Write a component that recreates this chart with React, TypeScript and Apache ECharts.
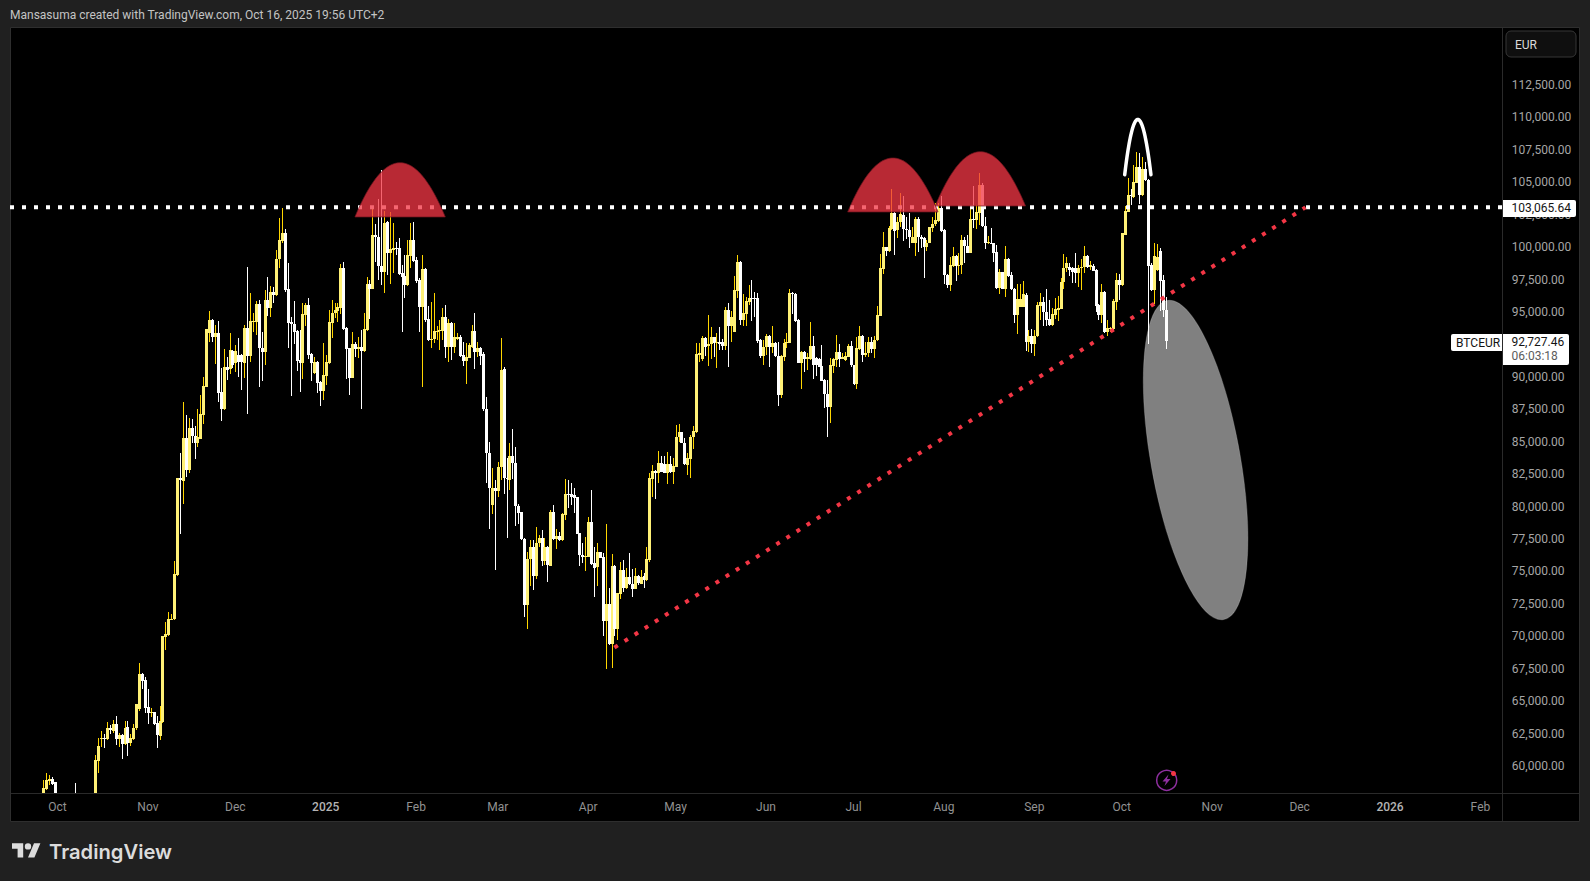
import { useEffect, useRef } from "react";
import * as echarts from "echarts";

type Candle = [number, number, number, number]; // open, high, low, close

const firstDay = "2024-09-16";
const dayCount = 511;

const sep24: Candle[] = [
  [52900, 53100, 52000, 52300], [52300, 54000, 52100, 53700], [53700, 54500, 52900, 54200], [54200, 56000, 54100, 55800], [55800, 56500, 55300, 56200],
  [56200, 56500, 55900, 56300], [56300, 57000, 55900, 56800], [56800, 57300, 56300, 57000], [57000, 57700, 56500, 57400], [57400, 57600, 56400, 56800],
  [57000, 58920, 56800, 58277], [58226, 59434, 58149, 58920], [58869, 59305, 58535, 58971], [58971, 59126, 58500, 58612], [58740, 58740, 56900, 57300],
];
const oct24: Candle[] = [
  [57300, 57700, 54800, 55500], [55500, 56100, 54800, 55200], [55200, 55600, 54300, 55000], [55000, 56400, 54900, 56100], [56100, 56300, 55900, 56200],
  [56200, 57200, 56000, 57000], [57500, 58663, 56000, 56800], [56800, 57200, 56100, 56900], [56900, 57300, 55700, 55800], [55800, 56600, 54900, 55300],
  [55300, 57400, 55200, 57000], [57000, 57500, 56800, 57300], [57300, 57600, 56700, 57000], [57000, 60847, 56900, 60462], [60411, 62132, 59434, 61541],
  [62055, 62698, 61490, 62132], [62132, 62467, 61361, 62055], [62055, 63418, 62004, 62904], [62904, 63161, 62467, 62775], [62724, 63546, 62518, 63238],
  [63238, 63854, 61618, 62081], [62055, 62518, 61490, 62390], [62390, 62450, 60565, 61696], [61696, 63469, 61618, 62955], [63032, 63469, 60770, 61798],
  [61798, 62441, 61541, 62132], [62081, 63238, 62004, 62904], [62904, 64754, 62775, 64754], [64394, 67915, 64266, 67093], [67093, 67195, 65936, 66579],
  [66630, 66836, 64060, 64445],
];
const nov24: Candle[] = [
  [64523, 65936, 63238, 64111], [64111, 64497, 63752, 64163], [64163, 64163, 63160, 63238], [63289, 63854, 61387, 62364], [62312, 64625, 62004, 63443],
  [63417, 70022, 63340, 70022], [69971, 71076, 68943, 70177], [70074, 71847, 70022, 71307], [71307, 71719, 71256, 71359], [71333, 75805, 71256, 74803],
  [74726, 82176, 74674, 82176], [82176, 84104, 77885, 82048], [81997, 88062, 80198, 85261], [85261, 87060, 82305, 82819], [82819, 86803, 82613, 86031],
  [86031, 86725, 84875, 85440], [85466, 86212, 83667, 84875], [84875, 87496, 84618, 85338], [85235, 88601, 85183, 87137], [87060, 89964, 86366, 89295],
  [89244, 93664, 89193, 93664], [93356, 95078, 92714, 94384], [94384, 94435, 92714, 93099], [93099, 93998, 90992, 93407], [93407, 94307, 88088, 88781],
  [88807, 90658, 86623, 87522], [87522, 92148, 87445, 90735], [90735, 91506, 89758, 90529], [90580, 93407, 90221, 92071], [92020, 92071, 90658, 90915],
];
const dec24: Candle[] = [
  [91043, 92457, 90375, 92020], [91686, 92970, 90015, 91171], [91686, 91763, 88987, 91120], [91043, 93998, 89938, 93742], [93742, 98468, 87137, 91608],
  [91606, 96438, 91170, 94305], [94228, 94896, 93482, 94305], [94254, 95847, 93226, 95616], [95616, 95924, 89242, 92198], [92198, 93482, 89705, 91915],
  [91915, 96695, 90912, 95941], [95941, 97672, 94690, 95333], [95333, 97003, 94639, 96515], [96515, 96952, 95718, 96284], [96310, 99779, 96258, 99059],
  [99059, 102220, 98417, 100550], [100499, 102992, 100293, 101064], [101064, 101398, 96567, 96695], [96772, 98751, 92249, 94176], [94254, 94639, 88548, 94074],
  [94074, 95847, 92532, 93482], [93560, 93611, 90476, 91247], [91298, 93611, 88856, 91092], [91092, 95667, 89833, 94845], [94793, 95667, 93945, 95539],
  [95539, 96052, 91349, 91684], [91735, 91812, 89705, 91041], [90321, 91504, 90219, 91118], [91118, 91221, 88728, 89550], [89602, 89705, 87777, 88908],
  [88908, 92583, 88214, 90116],
];
const jan25: Candle[] = [
  [90090, 91684, 89370, 91118], [91067, 95153, 90990, 94202], [94176, 95924, 92968, 94896], [94896, 95718, 94511, 95127], [95102, 95667, 94254, 95359],
  [95333, 98674, 94845, 98365], [98365, 98828, 93611, 93714], [93740, 93868, 89833, 92146], [92198, 92249, 88600, 89936], [89936, 93482, 89885, 92506],
  [92506, 92712, 91555, 92146], [92120, 93097, 91427, 92275], [92275, 93611, 87546, 92018], [91992, 94896, 91941, 93662], [93611, 97672, 93560, 97132],
  [97132, 97466, 94459, 96772], [96798, 102914, 96746, 100910], [100910, 101784, 98880, 100756], [100756, 103685, 97466, 98545], [98545, 105947, 97080, 98083],
  [98083, 102786, 96489, 101886], [101938, 102015, 97852, 99573], [99573, 102709, 97158, 99830], [99779, 101835, 97980, 99908], [99908, 100422, 99393, 99830],
  [99908, 100679, 97877, 97929], [97980, 98623, 93482, 97723], [97774, 99394, 96104, 97106], [97081, 100550, 97029, 99368], [99342, 101835, 98365, 100550],
  [100550, 101912, 98880, 98957],
];
const feb25: Candle[] = [
  [99008, 99265, 97209, 97389], [97466, 97594, 93482, 95410], [95410, 99394, 89242, 98288], [98288, 98365, 94254, 94382], [94433, 95461, 92789, 92840],
  [92840, 95744, 92198, 92917], [92891, 96438, 92583, 93534], [93482, 93919, 92840, 93560], [93560, 94382, 92069, 93611], [93534, 95282, 92840, 94613],
  [94613, 95539, 91427, 92326], [92326, 94459, 91170, 94151], [94176, 94254, 91298, 92326], [92326, 94125, 91812, 93097], [92943, 93405, 92840, 93046],
  [93046, 93226, 91555, 91606], [91684, 92712, 90835, 91247], [91247, 92583, 89448, 91504], [91478, 92583, 91427, 92455], [92326, 93997, 92198, 93534],
  [93534, 94896, 90604, 91941], [91941, 92712, 91555, 92198], [92198, 92326, 90912, 91606], [91735, 91889, 87392, 87494], [87497, 88422, 81791, 84155],
  [84155, 85003, 78270, 81406], [80120, 82947, 79427, 81406], [81406, 82048, 75109, 81200],
];
const mar25: Candle[] = [
  [81200, 83410, 80763, 83050], [83050, 92970, 82048, 90529], [90580, 90735, 80969, 82176], [82228, 83719, 77551, 82125], [82048, 84875, 81277, 83898],
  [83898, 85980, 82099, 83333], [83333, 84567, 78501, 80043], [80043, 80198, 78656, 79529], [79555, 79607, 77422, 77473], [77473, 77551, 71511, 72410],
  [72410, 76523, 70560, 75957], [75931, 77422, 73875, 76857], [76857, 77422, 73567, 74646], [74646, 78399, 74415, 77165], [77165, 77807, 76857, 77551],
  [77551, 78193, 75417, 75803], [75803, 77551, 75494, 76857], [76857, 76959, 74210, 75469], [75443, 79735, 75392, 79581], [79581, 80120, 77422, 77499],
  [77499, 78244, 76728, 77730], [77730, 78065, 77371, 77422], [77422, 79478, 77371, 79427], [79375, 82125, 78964, 80969], [80969, 82048, 79863, 80866],
  [80969, 81791, 80095, 80763], [80866, 81406, 79529, 80686], [80712, 80763, 77885, 77910], [77936, 77987, 75417, 76291], [76291, 77216, 75623, 76086],
  [76086, 77628, 75058, 76188],
];
const apr25: Candle[] = [
  [76137, 79221, 76086, 78810], [78810, 81277, 75520, 75572], [75623, 76857, 73053, 75237], [75315, 77165, 73901, 76471], [76471, 76523, 76009, 76060],
  [76086, 76394, 70020, 71177], [71177, 78656, 67476, 72488], [72488, 73696, 69352, 69404], [69404, 76343, 67579, 75417], [75417, 75494, 70020, 70586],
  [70586, 73361, 69712, 73310], [73259, 75726, 72899, 75109], [75109, 75880, 73438, 73721], [73721, 75237, 73618, 74595], [74595, 76445, 73953, 74004],
  [74030, 75186, 73053, 73644], [73644, 75237, 73618, 74646], [74646, 74724, 73953, 74081], [74030, 75109, 74004, 74595], [74646, 74852, 73747, 74338],
  [74338, 76857, 74287, 75931], [75880, 82562, 75751, 82202], [82151, 83205, 80763, 82742], [82768, 82819, 80583, 82562], [82562, 84284, 81842, 83333],
  [83333, 83898, 82665, 82690], [83282, 83898, 82562, 82613], [82613, 84207, 81740, 83282], [83256, 83898, 82613, 82690], [82665, 83744, 81740, 83127],
];
const may25: Candle[] = [
  [83076, 86288, 83025, 85389], [85338, 86366, 85003, 85749], [85749, 85775, 84875, 84901], [84926, 85286, 83204, 83282], [83230, 84104, 82434, 83744],
  [83693, 85518, 82228, 85389], [85338, 86211, 84438, 85826], [85774, 92636, 85646, 91763], [91685, 92636, 91172, 91814], [91351, 93150, 91249, 92970],
  [92970, 93099, 91608, 92328], [92379, 94768, 90863, 92508], [92534, 93819, 91351, 93048], [93048, 93099, 91557, 92585], [92585, 93407, 90658, 92714],
  [92714, 93819, 92071, 92534], [92688, 92893, 92071, 92379], [92403, 95410, 92069, 95153], [95153, 95667, 90733, 93919], [93919, 95102, 92712, 94639],
  [93482, 97800, 93431, 96695], [96644, 99394, 96052, 98880], [98880, 98957, 93997, 94382], [94382, 96387, 93919, 94947], [94845, 96130, 93945, 95847],
  [95795, 97081, 95539, 96052], [96052, 97466, 94331, 96001], [96052, 96515, 94639, 96001], [96052, 96490, 92634, 92763], [92840, 92891, 91427, 91606],
  [91632, 92840, 90912, 92275],
];
const jun25: Candle[] = [
  [92275, 93303, 91684, 93148], [93148, 93226, 90733, 92326], [92326, 93919, 91863, 92634], [92609, 92712, 91555, 91606], [91606, 92686, 87777, 88600],
  [88600, 91684, 88343, 91606], [91555, 92891, 91247, 92583], [92583, 93405, 92198, 92686], [92634, 96772, 92583, 96438], [96438, 96541, 94845, 96361],
  [96387, 96438, 94254, 94331], [94382, 94433, 91041, 91092], [91092, 92018, 89062, 91941], [91941, 92018, 90399, 91375], [91349, 91812, 90527, 91504],
  [91401, 94228, 91298, 92377], [92377, 93148, 89833, 90912], [91427, 91555, 90064, 90912], [91375, 91427, 90733, 90784], [90835, 92455, 89653, 89705],
  [89756, 89807, 87623, 88651], [88677, 89756, 85387, 87700], [87700, 91427, 86466, 90887], [90835, 91427, 90321, 91349], [91298, 93226, 90784, 91915],
  [91915, 92532, 90784, 91401], [91401, 91812, 91349, 91555], [91298, 91941, 91221, 91606], [91555, 92532, 91504, 92377], [92377, 92763, 90784, 90887],
];
const jul25: Candle[] = [
  [90887, 90938, 89370, 89448], [89448, 93097, 89062, 92198], [92146, 93919, 92069, 93148], [93148, 93200, 91170, 91684], [91684, 92712, 91555, 91812],
  [91812, 93097, 91555, 92686], [92712, 93097, 91812, 92120], [92146, 93148, 91427, 92840], [92840, 95461, 92789, 94768], [94716, 99445, 94665, 98365],
  [98314, 101141, 97929, 99985], [99985, 100036, 99316, 99728], [99702, 101630, 99651, 101450], [101372, 104456, 101321, 102606], [102657, 102709, 99394, 101270],
  [101321, 102349, 100679, 101912], [101912, 104148, 101578, 102555], [102478, 103942, 100473, 101372], [101372, 102298, 100601, 101321], [101321, 102657, 99908, 100756],
  [100344, 101578, 100293, 100807], [100293, 102298, 99342, 102143], [102143, 102298, 99651, 100807], [100807, 100936, 99908, 100653], [100704, 100756, 97646, 100036],
  [100036, 100550, 99728, 100293], [100344, 101578, 100293, 101527], [101475, 102298, 101192, 101784], [101784, 103377, 101629, 102092], [102041, 103377, 101964, 102992],
  [102992, 103942, 101192, 101270],
];
const aug25: Candle[] = [
  [101321, 101372, 97158, 97852], [97852, 97903, 96823, 97081], [97081, 99214, 96644, 98597], [98545, 100036, 98494, 99316], [99316, 99394, 97415, 98545],
  [98545, 99522, 97852, 98622], [98597, 100936, 97929, 100550], [100550, 100807, 98751, 100087], [100087, 100936, 99522, 99573], [99573, 103171, 99522, 102143],
  [102143, 104713, 101450, 102092], [102092, 103249, 101372, 102735], [102657, 105690, 101706, 104790], [104790, 104919, 101578, 101629], [101629, 102298, 99856, 100344],
  [100293, 100858, 100242, 100422], [100344, 101449, 100242, 100293], [100293, 100344, 98828, 99573], [99625, 100164, 96772, 96824], [96824, 98314, 96387, 98109],
  [98057, 98109, 96746, 96772], [96772, 100088, 96181, 99085], [99085, 99137, 97723, 97800], [97852, 98109, 96695, 96746], [96746, 96824, 94176, 94767],
  [94767, 97132, 93303, 95997], [95410, 97132, 95359, 95997], [95410, 97389, 95359, 96361], [96309, 96438, 92018, 92712], [92712, 93611, 91941, 93148],
  [93148, 93662, 91812, 92506],
];
const sep25: Candle[] = [
  [92506, 93611, 91632, 93174], [93148, 95796, 93097, 95539], [95487, 96438, 94382, 95770], [95770, 96130, 93945, 94973], [94973, 96746, 93919, 94382],
  [94433, 95924, 93919, 93997], [93997, 95281, 93945, 94819], [94767, 96052, 94459, 95204], [95153, 96232, 94331, 95281], [95230, 97594, 95204, 97337],
  [97286, 99471, 96772, 98417], [98366, 99214, 98109, 98802], [98443, 98751, 97774, 98237], [98366, 98494, 97209, 98109], [98366, 99522, 97209, 97980],
  [97980, 98622, 96952, 98417], [98366, 99059, 96695, 98494], [98443, 100088, 98031, 99316], [99316, 99393, 98366, 98494], [98494, 98931, 98237, 98622],
  [98571, 98700, 98134, 98186], [98237, 98288, 95024, 95487], [95539, 95616, 94382, 94767], [94767, 97158, 94125, 96515], [96567, 96618, 93354, 93431],
  [93431, 94382, 93148, 93765], [93714, 93868, 93483, 93791], [93714, 95975, 93611, 95821], [95770, 97980, 95153, 97440], [97440, 97929, 95924, 97106],
];
const oct25: Candle[] = [
  [97081, 101115, 97029, 101064], [100935, 103171, 100900, 102786], [102734, 105305, 102683, 104020], [104020, 104456, 103248, 103942], [103891, 106332, 103763, 105022],
  [104970, 107309, 104919, 106153], [106153, 107232, 103326, 104020], [104020, 106924, 103968, 106024], [106024, 106590, 105099, 105176], [105176, 105227, 92532, 98571],
  [98622, 98751, 96644, 96695], [96695, 100293, 95616, 99316], [98237, 100242, 98186, 99265], [99702, 99907, 95102, 97389], [97440, 97852, 94639, 95153],
  [95153, 96181, 92146, 92727.46],
];

const tickPrices = [60000, 62500, 65000, 67500, 70000, 72500, 75000, 77500, 80000, 82500, 85000, 87500, 90000, 95000, 97500, 100000, 102500, 105000, 107500, 110000, 112500];
const monthNames = ["", "Feb", "Mar", "Apr", "May", "Jun", "Jul", "Aug", "Sep", "Oct", "Nov", "Dec"];

const levelPrice = 103065.64;
const lastPrice = 92727.46;
const countdown = "06:03:18";
const trendStart = ["2025-04-10", 69130];
const trendEnd = ["2025-12-03", 103065];
// left day, right day, base price, top price
const redHumps = [
  ["2025-01-11", "2025-02-11", 102324, 106510],
  ["2025-06-29", "2025-07-30", 102710, 106873],
  ["2025-07-29", "2025-08-29", 103172, 107358],
];
const whiteArc = [["2025-10-02", "2025-10-11", 105585, 109840]];
const targetEllipse = [["2025-10-27", 83592]];

const candleMonths = [sep24, oct24, nov24, dec24, jan25, feb25, mar25, apr25, may25, jun25, jul25, aug25, sep25, oct25];
const candles = candleMonths.flat();

const days: string[] = [];
for (let i = 0; i < dayCount; i++) {
  const d = new Date(Date.parse(firstDay + "T00:00:00Z") + i * 86400000);
  days.push(d.toISOString().slice(0, 10));
}

const money = (v: number) => v.toLocaleString("en-US", { minimumFractionDigits: 2, maximumFractionDigits: 2 });

const FONT = "Roboto";
const FRAME = "#2e2e2e";

echarts.graphic.registerShape(
  "tvLogo",
  echarts.graphic.extendPath("M14 22H7V11H0V4h14v18zM28 22h-8l7.5-18h8L28 22zM24 8a4 4 0 1 1-8 0 4 4 0 0 1 8 0z", {})
);

function renderCandle(_: any, api: any) {
  const x = Math.round(api.coord([api.value(0), 0])[0]);
  const o = api.value(1);
  const c = api.value(4);
  const yH = Math.round(api.coord([0, api.value(2)])[1]);
  const yL = Math.round(api.coord([0, api.value(3)])[1]);
  const yTop = Math.round(api.coord([0, Math.max(o, c)])[1]);
  const yBot = Math.round(api.coord([0, Math.min(o, c)])[1]);
  const up = c >= o;
  return {
    type: "group",
    children: [
      { type: "rect", shape: { x, y: yH, width: 1, height: Math.max(1, yL - yH) }, style: { fill: up ? "#FFD600" : "#FFFFFF" } },
      { type: "rect", shape: { x: x - 1, y: yTop, width: 3, height: Math.max(1, yBot - yTop) }, style: { fill: up ? "#FFF176" : "#FFFFFF" } },
    ],
  };
}

// level line runs from the frame's left edge to the price axis
function renderLevel(_: any, api: any) {
  const y = api.coord([0, api.value(0)])[1];
  return {
    type: "line",
    shape: { x1: 10, y1: y, x2: 1502, y2: y },
    style: { stroke: "#FFFFFF", lineWidth: 4, lineDash: [4, 8] },
  };
}

// parabola between two base points, the way the arc drawing tool looks
function arcPoints(api: any) {
  const [x0, yBase] = api.coord([api.value(0), api.value(2)]);
  const [x1, yTop] = api.coord([api.value(1), api.value(3)]);
  const pts: number[][] = [];
  for (let k = 0; k <= 48; k++) {
    const t = k / 48;
    const u = 2 * t - 1;
    pts.push([x0 + (x1 - x0) * t, yTop + (yBase - yTop) * u * u]);
  }
  return pts;
}

function renderHump(_: any, api: any) {
  return {
    type: "polygon",
    shape: { points: arcPoints(api) },
    style: { fill: "rgba(242,54,69,0.76)", stroke: "rgba(110,20,30,0.7)", lineWidth: 1 },
  };
}

function renderArc(_: any, api: any) {
  return {
    type: "polyline",
    shape: { points: arcPoints(api) },
    style: { fill: "none", stroke: "#FFFFFF", lineWidth: 3.5, lineCap: "round", lineJoin: "round" },
  };
}

function renderEllipse(_: any, api: any) {
  const [x, y] = api.coord([api.value(0), api.value(1)]);
  return {
    type: "ellipse",
    x: x - 2,
    y,
    rotation: (10 * Math.PI) / 180,
    shape: { cx: 0, cy: 0, rx: 44.7, ry: 162 },
    style: { fill: "rgba(255,255,255,0.5)", stroke: "rgba(255,255,255,0.2)", lineWidth: 1 },
  };
}

export default function App() {
  const chartRef = useRef<HTMLDivElement>(null);

  useEffect(() => {
    document.body.style.margin = "0";
    if (!chartRef.current) return;
    const chart = echarts.init(chartRef.current, undefined, { renderer: "svg" });

    const option: any = {
      animation: false,
      backgroundColor: "#202020",
      textStyle: { fontFamily: FONT },
      grid: { left: 12.3, top: 27, width: 1490, height: 766, containLabel: false },
      xAxis: {
        type: "category",
        data: days,
        boundaryGap: true,
        axisLine: { show: false },
        axisTick: { show: false },
        splitLine: { show: false },
        axisLabel: {
          interval: (_: number, v: string) => v.endsWith("-01"),
          formatter: (v: string) => {
            const m = Number(v.slice(5, 7));
            return m === 1 ? `{y|${v.slice(0, 4)}}` : monthNames[m - 1];
          },
          rich: { y: { color: "#b4b4b4", fontSize: 12, fontFamily: FONT, fontWeight: 500 } },
          color: "#929292",
          fontSize: 12,
          fontFamily: FONT,
          margin: 8,
        },
      },
      yAxis: {
        type: "value",
        position: "right",
        min: 57920,
        max: 116970,
        axisLine: { show: false },
        axisTick: { show: false, customValues: tickPrices },
        splitLine: { show: false },
        axisLabel: {
          customValues: tickPrices,
          formatter: (v: number) => money(v),
          color: "#a6a6a6",
          fontSize: 12,
          fontFamily: FONT,
          align: "left",
          margin: 9.5,
        },
      },
      series: [
        {
          type: "custom",
          name: "BTCEUR",
          z: 2,
          clip: true,
          renderItem: renderCandle,
          encode: { x: 0, y: [1, 2, 3, 4] },
          data: candles.map((c, i) => [i, ...c]),
        },
        {
          type: "custom",
          name: "level",
          z: 3,
          silent: true,
          renderItem: renderLevel,
          encode: { y: 0 },
          data: [[levelPrice]],
        },
        {
          type: "line",
          name: "trend",
          z: 4,
          symbol: "none",
          silent: true,
          lineStyle: { color: "#F23645", width: 4, type: [4, 8] },
          data: [trendStart, trendEnd],
        },
        {
          type: "custom",
          name: "humps",
          z: 5,
          silent: true,
          renderItem: renderHump,
          encode: { x: [0, 1], y: [2, 3] },
          data: redHumps.map(([a, b, base, top]) => [days.indexOf(a as string), days.indexOf(b as string), base, top]),
        },
        {
          type: "custom",
          name: "arc",
          z: 5,
          silent: true,
          renderItem: renderArc,
          encode: { x: [0, 1], y: [2, 3] },
          data: whiteArc.map(([a, b, base, top]) => [days.indexOf(a as string), days.indexOf(b as string), base, top]),
        },
        {
          type: "custom",
          name: "ellipse",
          z: 5,
          silent: true,
          renderItem: renderEllipse,
          encode: { x: 0, y: 1 },
          data: targetEllipse.map(([d, p]) => [days.indexOf(d as string), p]),
        },
      ],
      graphic: [
        // chart frame and axis separators
        { type: "rect", z: -2, silent: true, shape: { x: 10.5, y: 27.5, width: 1569, height: 794 }, style: { fill: "#000000", stroke: FRAME, lineWidth: 1 } },
        { type: "line", z: -1, silent: true, shape: { x1: 11, y1: 793.5, x2: 1579, y2: 793.5 }, style: { stroke: "#2a2a2a", lineWidth: 1 } },
        { type: "line", z: -1, silent: true, shape: { x1: 1502.5, y1: 28, x2: 1502.5, y2: 821 }, style: { stroke: "#2a2a2a", lineWidth: 1 } },
        // header
        { type: "text", z: 10, x: 10, y: 15, style: { text: "Mansasuma created with TradingView.com, Oct 16, 2025 19:56 UTC+2", fill: "#c4c4c4", font: `12px ${FONT}`, textVerticalAlign: "middle" } },
        // currency button
        { type: "rect", z: 10, shape: { x: 1506, y: 31, width: 70, height: 26, r: 5 }, style: { fill: "#0f0f0f", stroke: "#363636", lineWidth: 1 } },
        { type: "text", z: 11, x: 1515, y: 44.5, style: { text: "EUR", fill: "#dbdbdb", font: `12px ${FONT}`, textVerticalAlign: "middle" } },
        // level tag
        { type: "rect", z: 10, shape: { x: 1503, y: 200, width: 73, height: 17, r: [0, 2, 2, 0] }, style: { fill: "#FFFFFF" } },
        { type: "text", z: 11, x: 1511.5, y: 208.2, style: { text: money(levelPrice), fill: "#131313", font: `12px ${FONT}`, textVerticalAlign: "middle" } },
        // symbol and last price tags
        { type: "rect", z: 10, shape: { x: 1451, y: 334, width: 51, height: 17, r: [2, 0, 0, 2] }, style: { fill: "#FFFFFF" } },
        { type: "text", z: 11, x: 1456, y: 342.5, style: { text: "BTCEUR", fill: "#131313", font: `12px ${FONT}`, textVerticalAlign: "middle" } },
        { type: "rect", z: 10, shape: { x: 1503, y: 334, width: 66, height: 31, r: [0, 2, 2, 0] }, style: { fill: "#FFFFFF" } },
        { type: "text", z: 11, x: 1511.5, y: 342, style: { text: money(lastPrice), fill: "#131313", font: `12px ${FONT}`, textVerticalAlign: "middle" } },
        { type: "text", z: 11, x: 1511.5, y: 356, style: { text: countdown, fill: "#5c5c5c", font: `12px ${FONT}`, textVerticalAlign: "middle" } },
        // lightning badge
        { type: "circle", z: 10, silent: true, shape: { cx: 1166.7, cy: 780.3, r: 10 }, style: { fill: "none", stroke: "#8E2F9F", lineWidth: 1.5 } },
        { type: "polygon", z: 10, silent: true, shape: { points: [[1168.5, 774.5], [1162.5, 781.5], [1166, 781.5], [1164.5, 786], [1170.5, 779], [1167, 779]] }, style: { fill: "#8E2F9F" } },
        { type: "circle", z: 11, silent: true, shape: { cx: 1173.5, cy: 773.5, r: 2.5 }, style: { fill: "#F23645" } },
        // brand
        { type: "tvLogo", z: 10, silent: true, x: 12, y: 840, scaleX: 0.8, scaleY: 0.8, style: { fill: "#dcdcdc" } },
        { type: "text", z: 10, x: 49, y: 851, style: { text: "TradingView", fill: "#dcdcdc", font: `600 20.2px Inter`, textVerticalAlign: "middle" } },
      ],
    };

    chart.setOption(option);
    return () => chart.dispose();
  }, []);

  return <div ref={chartRef} style={{ width: 1590, height: 881 }} />;
}
